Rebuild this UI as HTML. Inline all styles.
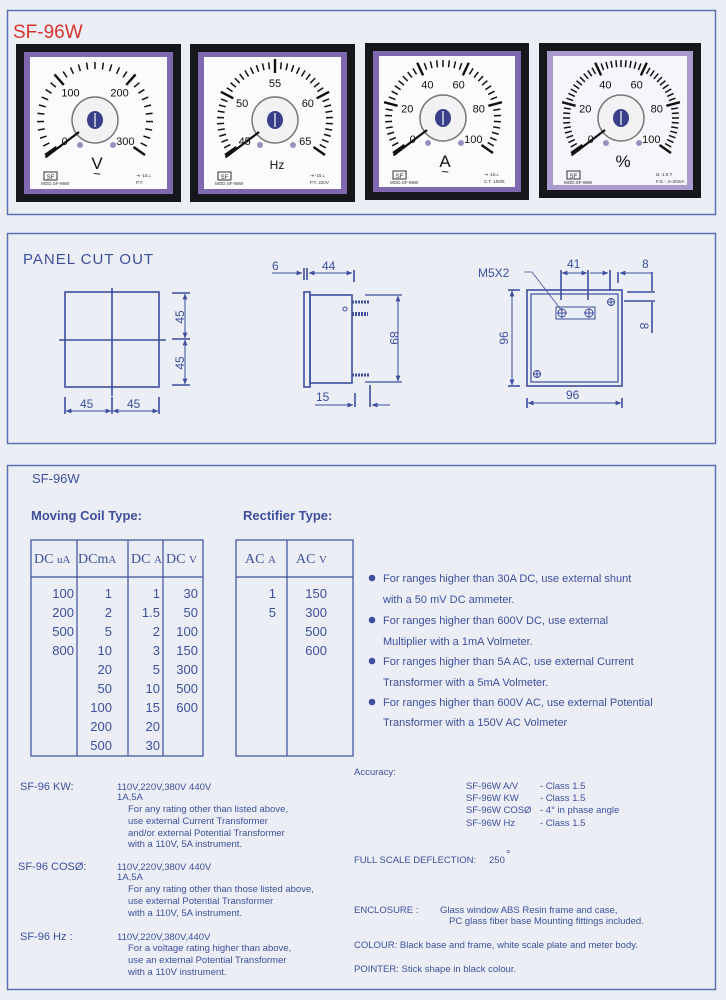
<!DOCTYPE html>
<html><head><meta charset="utf-8"><style>
html,body{margin:0;padding:0;background:#eceef5;}
svg{display:block;}
text{font-family:"Liberation Sans",sans-serif;}
.b{fill:#3d4f9e;}
</style></head><body>
<svg id="s" width="726" height="1000" viewBox="0 0 726 1000" xmlns="http://www.w3.org/2000/svg">
<rect width="726" height="1000" fill="#eceef5"/>
<defs>
<marker id="ar" viewBox="0 0 10 10" refX="9" refY="5" markerWidth="6" markerHeight="6" orient="auto-start-reverse"><path d="M0,1 L10,5 L0,9 z" fill="#3d4f9e"/></marker>
</defs>
<rect x="7.5" y="10.5" width="708" height="204" fill="none" stroke="#5f6fb3" stroke-width="1.5"/>
<rect x="7.5" y="233.5" width="708" height="210" fill="none" stroke="#5f6fb3" stroke-width="1.5"/>
<rect x="7.5" y="465.5" width="708" height="524" fill="none" stroke="#5f6fb3" stroke-width="1.5"/>
<text x="13" y="38" font-size="19" fill="#d8342c">SF-96W</text>
<g id="meters"></g>

<g stroke="#3d4f9e" fill="none" stroke-width="1.6">
<text x="23" y="264" font-size="15" fill="#3d4f9e" stroke="none" letter-spacing="1" class="b">PANEL  CUT  OUT</text>
<rect x="65" y="292" width="94" height="95"/>
<line x1="112" y1="288" x2="112" y2="396"/>
<line x1="59" y1="340" x2="166" y2="340"/>
<line x1="172" y1="293" x2="190" y2="293"/><line x1="172" y1="339" x2="190" y2="339"/><line x1="172" y1="385" x2="190" y2="385"/>
<line x1="185" y1="294" x2="185" y2="338" stroke-width="1" marker-start="url(#ar)" marker-end="url(#ar)"/>
<line x1="185" y1="340" x2="185" y2="384" stroke-width="1" marker-start="url(#ar)" marker-end="url(#ar)"/>
<line x1="65" y1="397" x2="65" y2="414"/><line x1="112" y1="397" x2="112" y2="414"/><line x1="159" y1="397" x2="159" y2="414"/>
<line x1="66" y1="411" x2="111" y2="411" stroke-width="1" marker-start="url(#ar)" marker-end="url(#ar)"/>
<line x1="113" y1="411" x2="158" y2="411" stroke-width="1" marker-start="url(#ar)" marker-end="url(#ar)"/>
</g>
<g class="b" font-size="12">
<text x="80" y="408">45</text><text x="127" y="408">45</text>
<text transform="translate(184,317) rotate(-90)" text-anchor="middle">45</text>
<text transform="translate(184,363) rotate(-90)" text-anchor="middle">45</text>
</g>
<g stroke="#3d4f9e" fill="none" stroke-width="1.6">
<rect x="304" y="292" width="6" height="95"/>
<rect x="310" y="295" width="42" height="88"/>
<line x1="352" y1="302" x2="370" y2="302" stroke-width="3" stroke-dasharray="2,1"/>
<line x1="352" y1="314" x2="368" y2="314" stroke-width="4" stroke-dasharray="2,1"/>
<line x1="352" y1="375" x2="370" y2="375" stroke-width="3" stroke-dasharray="2,1"/>
<circle cx="345" cy="309" r="2" stroke-width="1"/>
<line x1="365" y1="295" x2="402" y2="295" stroke-width="1.2"/>
<line x1="365" y1="382" x2="402" y2="382" stroke-width="1.2"/>
<line x1="398" y1="296" x2="398" y2="381" stroke-width="1" marker-start="url(#ar)" marker-end="url(#ar)"/>
<line x1="272" y1="273" x2="302" y2="273" stroke-width="1" marker-end="url(#ar)"/>
<line x1="304" y1="268" x2="304" y2="280"/><line x1="307" y1="268" x2="307" y2="280"/>
<line x1="354" y1="270" x2="354" y2="282"/>
<line x1="309" y1="273" x2="352" y2="273" stroke-width="1" marker-start="url(#ar)" marker-end="url(#ar)"/>
<line x1="355" y1="393" x2="355" y2="407"/><line x1="370" y1="385" x2="370" y2="407"/>
<line x1="315" y1="405" x2="353" y2="405" stroke-width="1" marker-end="url(#ar)"/>
<line x1="390" y1="405" x2="372" y2="405" stroke-width="1" marker-end="url(#ar)"/>
</g>
<g class="b" font-size="12">
<text x="272" y="270">6</text><text x="322" y="270">44</text><text x="316" y="401">15</text>
<text transform="translate(390,338) rotate(90)" text-anchor="middle">89</text>
</g>
<g stroke="#3d4f9e" fill="none" stroke-width="1.6">
<rect x="527" y="290" width="95" height="96"/>
<rect x="531" y="294" width="87" height="88" stroke-width="1.2"/>
<rect x="556" y="307" width="39" height="12" stroke-width="1"/>
<g stroke-width="1"><circle cx="562" cy="313" r="4"/><path d="M557,313h10M562,308v10"/>
<circle cx="589" cy="313" r="4"/><path d="M584,313h10M589,308v10"/>
<circle cx="611" cy="302" r="3.5"/><path d="M607,302h8M611,298v8"/>
<circle cx="537" cy="374" r="3.5"/><path d="M533,374h8M537,370v8"/></g>
<line x1="561" y1="270" x2="561" y2="300"/><line x1="588" y1="270" x2="588" y2="300"/>
<line x1="610" y1="270" x2="610" y2="291"/><line x1="618" y1="272" x2="618" y2="283"/>
<line x1="562" y1="273" x2="587" y2="273" stroke-width="1" marker-start="url(#ar)" marker-end="url(#ar)"/>
<line x1="590" y1="273" x2="608" y2="273" stroke-width="1" marker-end="url(#ar)"/>
<line x1="652" y1="273" x2="620" y2="273" stroke-width="1" marker-end="url(#ar)"/>
<line x1="652" y1="272" x2="652" y2="291"/>
<line x1="627" y1="292" x2="655" y2="292"/><line x1="624" y1="301" x2="655" y2="301"/>
<line x1="652" y1="302" x2="652" y2="333"/>
<line x1="512" y1="291" x2="512" y2="385" stroke-width="1" marker-start="url(#ar)" marker-end="url(#ar)"/>
<line x1="508" y1="290" x2="520" y2="290"/><line x1="508" y1="386" x2="520" y2="386"/>
<line x1="528" y1="403" x2="621" y2="403" stroke-width="1" marker-start="url(#ar)" marker-end="url(#ar)"/>
<line x1="527" y1="398" x2="527" y2="408"/><line x1="622" y1="398" x2="622" y2="408"/>
<path d="M524,272 H532 L562,311" stroke-width="0.8"/>
</g>
<g class="b" font-size="12">
<text x="478" y="277">M5X2</text><text x="567" y="268">41</text><text x="642" y="268">8</text>
<text x="566" y="399">96</text>
<text transform="translate(508,338) rotate(-90)" text-anchor="middle">96</text>
<text transform="translate(640,326) rotate(90)" text-anchor="middle">8</text>
</g>

<g class="b">
<text x="32" y="483" font-size="13">SF-96W</text>
<text x="31" y="520" font-size="13" font-weight="bold">Moving Coil Type:</text>
<text x="243" y="520" font-size="13" font-weight="bold">Rectifier Type:</text>
</g>
<g stroke="#3d4f9e" fill="none" stroke-width="1.2">
<rect x="31" y="540" width="172" height="216"/>
<line x1="31" y1="577" x2="203" y2="577"/>
<line x1="77" y1="540" x2="77" y2="756"/><line x1="128" y1="540" x2="128" y2="756"/><line x1="163" y1="540" x2="163" y2="756"/>
<rect x="236" y="540" width="117" height="216"/>
<line x1="236" y1="577" x2="353" y2="577"/>
<line x1="287" y1="540" x2="287" y2="756"/>
</g>
<g class="b" font-size="14">
<text x="34" y="563" style="font-family:'Liberation Serif',serif">DC <tspan font-size="11">uA</tspan></text>
<text x="78" y="563" style="font-family:'Liberation Serif',serif">DCm<tspan font-size="11">A</tspan></text>
<text x="131" y="563" style="font-family:'Liberation Serif',serif">DC <tspan font-size="11">A</tspan></text>
<text x="166" y="563" style="font-family:'Liberation Serif',serif">DC <tspan font-size="11">V</tspan></text>
<text x="245" y="563" style="font-family:'Liberation Serif',serif">AC <tspan font-size="11">A</tspan></text>
<text x="296" y="563" style="font-family:'Liberation Serif',serif">AC <tspan font-size="11">V</tspan></text>
</g>
<g id="tbl" class="b" font-size="13"></g>

<g class="b" font-size="11">
<text x="383" y="582">For ranges higher than 30A DC, use external shunt</text>
<text x="383" y="603">with a 50 mV DC ammeter.</text>
<text x="383" y="624">For ranges higher than 600V DC, use external</text>
<text x="383" y="645">Multiplier with a 1mA Volmeter.</text>
<text x="383" y="665">For ranges higher than 5A AC, use external Current</text>
<text x="383" y="686">Transformer with a 5mA Volmeter.</text>
<text x="383" y="706">For ranges higher than 600V AC, use external Potential</text>
<text x="383" y="726">Transformer with a 150V AC Volmeter</text>
<circle cx="372" cy="578" r="3.3"/><circle cx="372" cy="620" r="3.3"/><circle cx="372" cy="661" r="3.3"/><circle cx="372" cy="702" r="3.3"/>
</g>

<g class="b" font-size="9.5">
<text x="20" y="790" font-size="11">SF-96 KW:</text>
<text x="117" y="790">110V,220V,380V 440V</text>
<text x="117" y="800">1A,5A</text>
<text x="128" y="812">For any rating other than listed above,</text>
<text x="128" y="824">use external Current Transformer</text>
<text x="128" y="836">and/or external Potential Transformer</text>
<text x="128" y="847">with a 110V, 5A instrument.</text>
<text x="18" y="870" font-size="11">SF-96 COSØ:</text>
<text x="117" y="870">110V,220V,380V 440V</text>
<text x="117" y="880">1A,5A</text>
<text x="128" y="892">For any rating other than those listed above,</text>
<text x="128" y="904">use external Potential Transformer</text>
<text x="128" y="916">with a 110V, 5A instrument.</text>
<text x="20" y="940" font-size="11">SF-96 Hz :</text>
<text x="117" y="940">110V,220V,380V,440V</text>
<text x="128" y="951">For a voltage rating higher than above,</text>
<text x="128" y="963">use an external Potential Transformer</text>
<text x="128" y="975">with a 110V instrument.</text>

<text x="354" y="775">Accuracy:</text>
<text x="466" y="789">SF-96W A/V</text><text x="540" y="789">- Class 1.5</text>
<text x="466" y="801">SF-96W KW</text><text x="540" y="801">- Class 1.5</text>
<text x="466" y="813">SF-96W COSØ</text><text x="540" y="813">- 4° in phase angle</text>
<text x="466" y="826">SF-96W Hz</text><text x="540" y="826">- Class 1.5</text>
<text x="354" y="863">FULL SCALE DEFLECTION:</text>
<text x="489" y="863">250</text><text x="506" y="858" font-size="11">°</text>
<text x="354" y="913">ENCLOSURE :</text>
<text x="440" y="913">Glass window  ABS Resin frame and case,</text>
<text x="449" y="924">PC glass fiber base Mounting fittings included.</text>
<text x="354" y="948">COLOUR:   Black base and frame, white scale plate and meter body.</text>
<text x="354" y="972">POINTER:  Stick shape in black colour.</text>
</g>
</svg>
<script>
var NS="http://www.w3.org/2000/svg";
function el(p,t,a,txt){var e=document.createElementNS(NS,t);for(var k in a)e.setAttribute(k,a[k]);if(txt!==undefined)e.textContent=txt;p.appendChild(e);return e;}
var tb=document.getElementById('tbl');
var cols=[[74,["100","200","500","800"]],[112,["1","2","5","10","20","50","100","200","500"]],[160,["1","1.5","2","3","5","10","15","20","30"]],[198,["30","50","100","150","300","500","600"]],[276,["1","5"]],[327,["150","300","500","600"]]];
cols.forEach(function(c){c[1].forEach(function(v,i){el(tb,'text',{x:c[0],y:598+i*19,'text-anchor':'end'},v);});});
var M=document.getElementById('meters');
function meter(fx,fy,fw,fh,cx,cy,labels,nt,majEvery,unit,sub,right,bev){
 el(M,'rect',{x:fx,y:fy,width:fw,height:fh,fill:'#15171a'});
 el(M,'rect',{x:fx+8,y:fy+8,width:fw-16,height:fh-16,fill:bev?'#a99bd0':'#7e68b0'});
 el(M,'rect',{x:fx+14,y:fy+13,width:fw-28,height:fh-26,fill:bev?'#f6f6fa':'#fbfbfd'});
 var a0=-125,a1=125,g=el(M,'g',{stroke:'#111','stroke-linecap':'butt'});
 for(var i=0;i<=nt;i++){var a=(a0+(a1-a0)*i/nt)*Math.PI/180;var maj=i%majEvery==0;
  var r1=maj?47:51,r2=maj?61:58;
  el(g,'line',{x1:cx+r1*Math.sin(a),y1:cy-r1*Math.cos(a),x2:cx+r2*Math.sin(a),y2:cy-r2*Math.cos(a),'stroke-width':maj?2.4:1.5});}
 labels.forEach(function(l,i){var a=(a0+(a1-a0)*i/(labels.length-1))*Math.PI/180;var r=37;
  el(M,'text',{x:cx+r*Math.sin(a),y:cy-r*Math.cos(a)+4,'text-anchor':'middle','font-size':11,fill:'#111'},l);});
 el(M,'circle',{cx:cx,cy:cy,r:23,fill:'#f2f2f4',stroke:'#777','stroke-width':1.5});
 el(M,'ellipse',{cx:cx,cy:cy,rx:8,ry:9,fill:'#3a3f8c'});
 el(M,'line',{x1:cx,y1:cy-7,x2:cx,y2:cy+7,stroke:'#fff','stroke-width':1.2});
 var a=(a0-2)*Math.PI/180;
 el(M,'line',{x1:cx+20*Math.sin(a),y1:cy-20*Math.cos(a),x2:cx+62*Math.sin(a),y2:cy-62*Math.cos(a),stroke:'#111','stroke-width':2.2});
 el(M,'circle',{cx:cx-15,cy:cy+25,r:3,fill:'#9c8fc0'});el(M,'circle',{cx:cx+18,cy:cy+25,r:3,fill:'#9c8fc0'});
 el(M,'text',{x:cx+2,y:cy+49,'text-anchor':'middle','font-size':unit=='Hz'?12:17,fill:'#111'},unit);
 if(sub)el(M,'text',{x:cx+2,y:cy+58,'text-anchor':'middle','font-size':13,fill:'#111'},'~');
 el(M,'rect',{x:fx+28,y:fy+128,width:13,height:8,fill:'none',stroke:'#333','stroke-width':1});
 el(M,'text',{x:fx+34.5,y:fy+135,'text-anchor':'middle','font-size':6,fill:'#333'},'SF');
 el(M,'text',{x:fx+25,y:fy+141,'font-size':4.5,fill:'#333'},'MOD.SF-96W');
 el(M,'text',{x:fx+fw-45,y:fy+133,'font-size':4.5,fill:'#333'},right[0]);
 el(M,'text',{x:fx+fw-45,y:fy+140,'font-size':4.5,fill:'#333'},right[1]);
}
meter(16,44,165,158,95,120,["0","100","200","300"],30,10,"V",true,["⇥ -15⊥","P.T."]);
meter(190,44,165,158,275,120,["45","50","55","60","65"],40,10,"Hz",false,["⇥ -15⊥","P.T.  220V"]);
meter(365,43,164,157,443,118,["0","20","40","60","80","100"],40,8,"A",true,["⇥ -15⊥","C.T. 100/5"]);
meter(539,43,162,155,621,118,["0","20","40","60","80","100"],50,10,"%",false,["Ω -1.5 T","F.S. : 4~20mA"],true);
</script>
</body></html>
